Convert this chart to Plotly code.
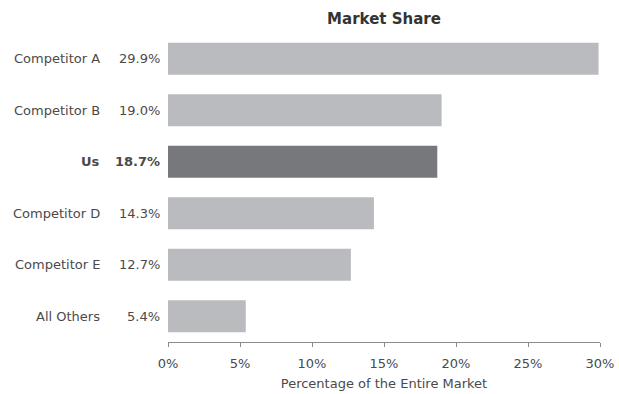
import plotly.graph_objects as go

# Market share by company (percent of entire market)
companies = ["Competitor A", "Competitor B", "Us", "Competitor D", "Competitor E", "All Others"]
shares = [29.9, 19.0, 18.7, 14.3, 12.7, 5.4]
highlight = "Us"

x_ticks = [0, 5, 10, 15, 20, 25, 30]
x_tick_labels = ["0%", "5%", "10%", "15%", "20%", "25%", "30%"]

FONT = "DejaVu Sans"
LIGHT = "#b9bbbe"
DARK = "#77787b"
TEXT = "#4a4a4a"

colors = [DARK if c == highlight else LIGHT for c in companies]

fig = go.Figure(
    go.Bar(
        x=shares,
        y=companies,
        orientation="h",
        marker=dict(color=colors, line=dict(width=0)),
        hoverinfo="skip",
    )
)

# Left-hand label columns: company name and its share
annotations = []
for c, v in zip(companies, shares):
    bold = c == highlight
    name = f"<b>{c}</b>" if bold else c
    val = f"<b>{v:.1f}%</b>" if bold else f"{v:.1f}%"
    annotations.append(dict(
        x=0, xref="paper", y=c, yref="y", text=val, showarrow=False,
        xanchor="right", xshift=-6, font=dict(family=FONT, size=13, color=TEXT),
    ))
    annotations.append(dict(
        x=0, xref="paper", y=c, yref="y", text=name, showarrow=False,
        xanchor="right", xshift=-66, font=dict(family=FONT, size=13, color=TEXT),
    ))

fig.update_layout(
    width=619,
    height=394,
    margin=dict(l=168, r=19, t=33, b=52, autoexpand=False),
    paper_bgcolor="white",
    plot_bgcolor="white",
    bargap=0.38,
    showlegend=False,
    title=dict(
        text="<b>Market Share</b>",
        x=(168 + 600) / 2 / 619, xanchor="center",
        y=1 - 19 / 394, yanchor="middle",
        font=dict(family=FONT, size=15, color="#333333"),
    ),
    xaxis=dict(
        range=[0, 30],
        tickvals=x_ticks,
        ticktext=x_tick_labels,
        automargin=False,
        showgrid=False,
        zeroline=False,
        showline=True,
        linecolor="#8c8c8c",
        linewidth=1,
        ticks="outside",
        ticklen=4,
        tickcolor="#8c8c8c",
        ticklabelstandoff=5,
        tickfont=dict(family=FONT, size=13, color=TEXT),
        title=dict(text="Percentage of the Entire Market", standoff=9,
                   font=dict(family=FONT, size=13, color=TEXT)),
        fixedrange=True,
    ),
    yaxis=dict(
        categoryorder="array",
        categoryarray=companies,
        autorange="reversed",
        automargin=False,
        showticklabels=False,
        showgrid=False,
        zeroline=False,
        showline=False,
        fixedrange=True,
    ),
    annotations=annotations,
)

fig.write_html("out.html", config={"displayModeBar": False})
